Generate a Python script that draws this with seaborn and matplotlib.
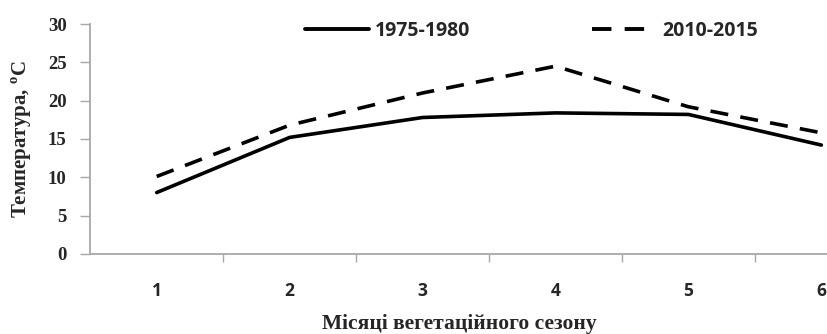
import seaborn as sns
import matplotlib.pyplot as plt
import matplotlib
import pandas as pd

matplotlib.use('Agg')

# Data
months = [1, 2, 3, 4, 5, 6]
temp_1975_1980 = [8.0, 15.2, 17.8, 18.4, 18.2, 14.2]
temp_2010_2015 = [10.1, 16.8, 21.0, 24.5, 19.2, 15.8]
period_labels = ["1975-1980", "2010-2015"]
y_ticks = [0, 5, 10, 15, 20, 25, 30]

df = pd.DataFrame({
    "month": months * 2,
    "temp": temp_1975_1980 + temp_2010_2015,
    "period": [period_labels[0]] * len(months) + [period_labels[1]] * len(months),
})

sns.set_style("white")
plt.rcParams['font.family'] = ['Liberation Serif', 'DejaVu Serif']
plt.rcParams['mathtext.fontset'] = 'custom'
plt.rcParams['mathtext.rm'] = 'Liberation Serif:bold'

fig = plt.figure(figsize=(8.28, 3.34), dpi=100)
ax = fig.add_axes([0.109, 0.240, 0.891, 0.688])

sns.lineplot(
    data=df, x="month", y="temp", style="period",
    dashes={period_labels[0]: "", period_labels[1]: (5, 3.4)},
    color="black", linewidth=2.6, ax=ax, legend=True
)

ax.set_xlim(0.5, 6.05)
ax.set_ylim(0, 30)
ax.set_yticks(y_ticks)
ax.set_yticklabels([str(t) for t in y_ticks], fontsize=13.5, fontweight="bold")

# Category axis: labels at months, tick marks between categories
ax.set_xticks(months)
ax.set_xticklabels([str(m) for m in months], fontsize=12.5, fontweight="bold",
                   family="Open Sans")
ax.set_xticks([m + 0.5 for m in months[:-1]], minor=True)
ax.tick_params(axis="x", which="major", length=0, pad=20)
ax.tick_params(axis="x", which="minor", bottom=True, length=6, color="#a8a8a8",
               width=1, direction="out")
ax.tick_params(axis="y", length=7, color="#a8a8a8", width=1, direction="out",
               left=True, pad=10)

for side in ["top", "right"]:
    ax.spines[side].set_visible(False)
for side in ["left", "bottom"]:
    ax.spines[side].set_color("#a8a8a8")
    ax.spines[side].set_linewidth(1.3)

ax.set_xlabel("Місяці вегетаційного сезону", fontsize=15.5, fontweight="bold", labelpad=10)
ax.set_ylabel("Температура, $^{\\mathrm{o}}$C", fontsize=15, fontweight="bold", labelpad=10)

leg = ax.legend(loc="upper center", bbox_to_anchor=(0.598, 1.09), ncol=2, frameon=False,
                handlelength=3.3, columnspacing=6.3, handletextpad=0.3,
                prop={"family": "Open Sans", "weight": "bold", "size": 14})
for line in leg.get_lines():
    line.set_linewidth(2.8)

plt.savefig("out.png", dpi=100)
